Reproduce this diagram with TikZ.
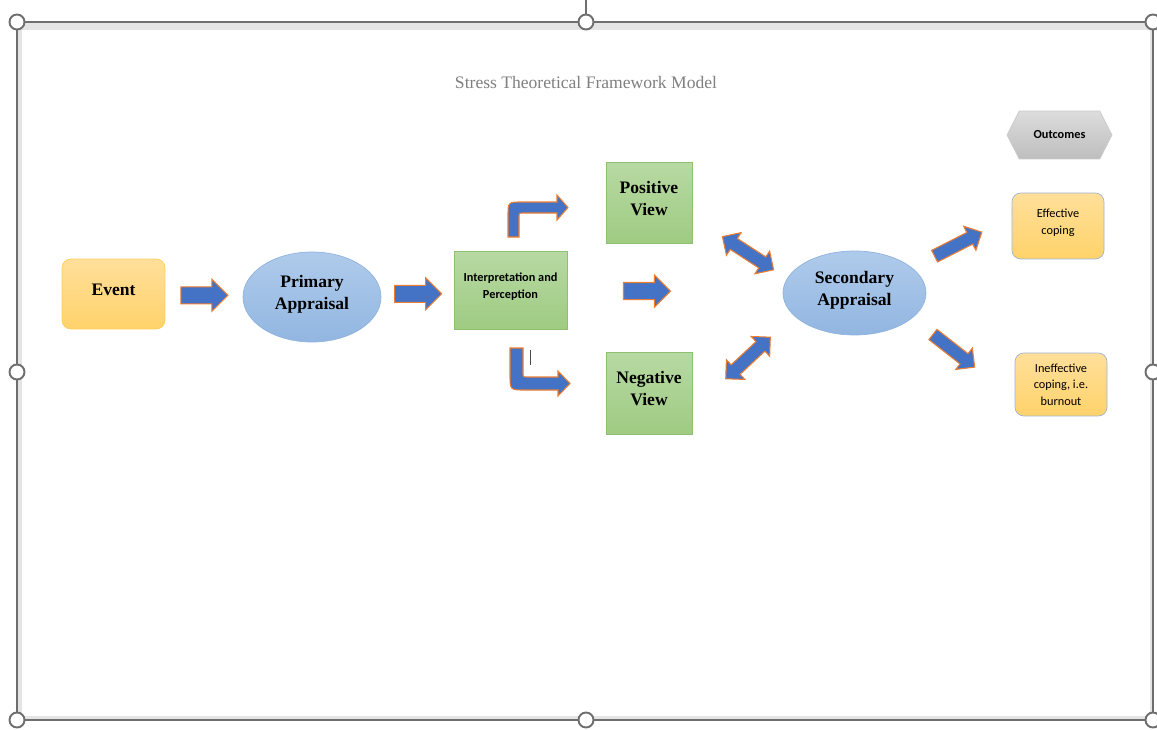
\documentclass[tikz,border=0pt]{standalone}
\usepackage{fontspec}
\setmainfont{Liberation Serif}
\newfontfamily\calfont{Carlito}
\usetikzlibrary{shapes,shapes.arrows,calc}
\definecolor{arrblue}{HTML}{4472C4}
\definecolor{arrline}{HTML}{ED7D31}
\definecolor{evtop}{HTML}{FFDF9A}
\definecolor{evbot}{HTML}{FFD36B}
\definecolor{evline}{HTML}{FFCF5A}
\definecolor{cpline}{HTML}{9FB4D2}
\definecolor{grtop}{HTML}{B7D9A3}
\definecolor{grbot}{HTML}{9FCB82}
\definecolor{grline}{HTML}{8DC070}
\definecolor{eltop}{HTML}{AFCBEB}
\definecolor{elbot}{HTML}{92B6E1}
\definecolor{elline}{HTML}{8FB4DF}
\definecolor{hxtop}{HTML}{DCDCDC}
\definecolor{hxbot}{HTML}{BEBEBE}
\definecolor{frame}{HTML}{6E6E6E}
\definecolor{band}{HTML}{E4E4E4}

\begin{document}
\begin{tikzpicture}[x=0.02cm,y=-0.02cm]
            \tikzstyle{org}=[rectangle,rounded corners=5pt,draw=evline,top color=evtop,bottom color=evbot,align=center,inner sep=0pt]
            \tikzstyle{grn}=[rectangle,draw=grline,top color=grtop,bottom color=grbot,align=center,inner sep=0pt]
            \tikzstyle{ell}=[ellipse,draw=elline,top color=eltop,bottom color=elbot,align=center,inner sep=0pt]
            \tikzstyle{big}=[font=\bfseries\fontsize{10}{12.5}\selectfont]
            \tikzstyle{sml}=[font=\calfont\fontsize{7}{9.5}\selectfont]
            \tikzstyle{fat}=[single arrow,draw=arrline,fill=arrblue,line width=0.6pt,inner xsep=0pt,inner ysep=0.16cm,
              minimum height=0.94cm,single arrow head extend=0.15cm,single arrow head indent=0pt]
            \tikzstyle{two}=[double arrow,draw=arrline,fill=arrblue,line width=0.6pt,inner xsep=0pt,inner ysep=0.12cm,
              minimum height=1.22cm,double arrow head extend=0.14cm,double arrow head indent=0pt]
            \tikzstyle{oarr}=[fat,minimum height=1.06cm,inner ysep=0.12cm,single arrow head extend=0.14cm]
            \tikzstyle{hdl}=[circle,draw=frame,fill=white,line width=1.1pt,minimum size=0.3cm,inner sep=0pt]

            \useasboundingbox (0,0) rectangle (1157,730);
            \fill[band] (17,22) rectangle (1153,720);
            \fill[white] (22,30) rectangle (1150,716);
            \draw[frame,line width=1.1pt] (17,22) rectangle (1153,720);
            \draw[frame,line width=1.1pt] (586,0) -- (586,14);
            \foreach \hx/\hy in {17/22,586/22,1153/22,17/372,1153/372,17/720,586/720,1153/720}
              \node[hdl] at (\hx,\hy) {};

            \node[font=\fontsize{10}{12}\selectfont,text=gray] (title) at (586,82) {Stress Theoretical Framework Model};

            \node[org,big,minimum width=2.06cm,minimum height=1.4cm] (event) at (113.5,294) {Event\\[-7.5pt]};
            \node[ell,big,minimum width=2.76cm,minimum height=1.8cm] (prim) at (312,297) {Primary\\Appraisal\\[-7.5pt]};
            \node[grn,sml,font=\calfont\bfseries\fontsize{7}{9.5}\selectfont,minimum width=2.26cm,minimum height=1.56cm] (interp) at (510.5,290) {Interpretation and\\Perception\\[-4.5pt]};
            \node[grn,big,minimum width=1.72cm,minimum height=1.62cm] (pos) at (649,202.5) {Positive\\View\\[-7.5pt]};
            \node[grn,big,minimum width=1.72cm,minimum height=1.64cm] (neg) at (649,393) {Negative\\View\\[-7.5pt]};
            \node[ell,big,minimum width=2.86cm,minimum height=1.68cm] (sec) at (854.5,293) {Secondary\\Appraisal\\[-7.5pt]};
            \node[signal,signal to=west and east,signal pointer angle=126,draw=hxbot!80,top color=hxtop,bottom color=hxbot,
              sml,font=\calfont\bfseries\fontsize{7}{9.5}\selectfont,inner sep=0pt,minimum width=2.1cm,minimum height=0.96cm] (outc) at (1059.5,135) {Outcomes\\[-4.5pt]};
            \node[org,sml,draw=cpline,minimum width=1.84cm,minimum height=1.32cm] (eff) at (1058,226) {Effective\\coping\\[-4.5pt]};
            \node[org,sml,draw=cpline,minimum width=1.84cm,minimum height=1.26cm] (ineff) at (1061,384.5) {Ineffective\\coping, i.e.\\burnout};

            \node[fat] (a1) at ($(event.east)!.45!(prim.west)$) {};
            \node[fat] (a2) at ($(prim.east)!.45!(interp.west)$) {};
            \node[fat] (a3) at ($(interp.east)!.35!(sec.west)$) {};
            \node[two,rotate=-33] (d1) at ($(pos.south east)!.5!(sec.north west)$) {};
            \node[two,rotate=43] (d2) at ($(neg.east)!.5!(sec.south west)$) {};
            \node[oarr,rotate=27] (o1) at ($(sec.north east)!.47!(eff.west)$) {};
            \node[oarr,rotate=-38] (o2) at ($(sec.south east)!.42!(ineff.west)$) {};

            \draw[arrline,fill=arrblue,line width=0.6pt] (508,237) -- (508,216) .. controls (508,202) .. (522,202)
              -- (557,202) -- (557,195) -- (568,207.5) -- (557,220) -- (557,213) -- (523,213)
              .. controls (519,213) .. (519,217) -- (519,237) -- cycle;
            \draw[arrline,fill=arrblue,line width=0.6pt] (510,348) -- (510,375) .. controls (510,390) .. (525,390)
              -- (558,390) -- (558,396) -- (570,383.5) -- (558,371) -- (558,377) -- (527,377)
              .. controls (523,377) .. (523,373) -- (523,348) -- cycle;
            \draw[black!70,line width=0.5pt] (530,350) -- (530,365);
        \end{tikzpicture}
\end{document}
